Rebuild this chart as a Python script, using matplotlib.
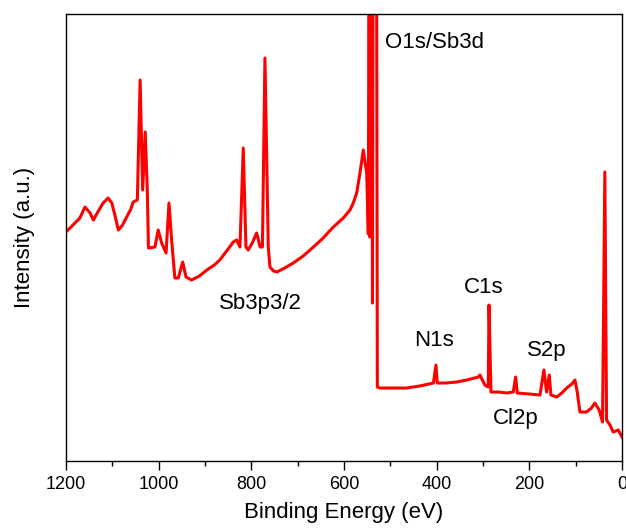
import matplotlib.pyplot as plt
import numpy as np
from matplotlib.ticker import MultipleLocator

plt.rcParams['font.family'] = ['Liberation Sans', 'DejaVu Sans']

# energia de enlace (eV) e intensidad
energia = [1200, 1185, 1170, 1159, 1148, 1141, 1130, 1120, 1109, 1101, 1094,
           1087, 1078, 1069, 1060, 1055, 1046,
           1040, 1034.5, 1029, 1024.5, 1022, 1008, 1001, 993.5, 984, 977.7,
           972, 965, 957.6, 948, 941, 929, 912, 896, 880, 868, 850, 839, 831.6,
           824.5, 817.4, 811.6, 806.6, 798, 788.5, 781, 776, 770.6, 763.4,
           759.8, 752, 745, 728, 709.5, 688, 666, 645, 623, 601.6, 587, 580,
           572.6, 565.5, 558.4, 551, 547.5, 545.5, 544.5, 543, 540, 538.5,
           537, 530, 528, 522, 495, 465, 437, 407, 401.5, 398.7, 380, 357, 335,
           310, 306.6, 296, 288.6, 287, 282.8, 265, 249, 234.6, 229.6, 226,
           200, 177, 168.5, 162.7, 157, 153.4, 141, 130, 119.5, 108, 101.5,
           96.6, 90.8, 76.4, 66, 58.5, 49.2, 42, 37, 33.3, 26, 19, 8, 0]
intensidad = [229, 236, 243, 254, 248, 241, 250, 258, 263, 258, 245,
              231, 236, 244, 252, 259, 261,
              381, 271, 329, 271, 213, 214, 231, 218, 208, 258,
              221, 183, 183, 199, 184, 181, 185, 191, 196, 201, 212, 219, 221,
              214, 313, 214, 211, 218, 228, 214, 214, 403, 214,
              194, 190, 189, 193, 198, 205, 214, 223, 234, 243, 251, 258,
              268, 288, 311, 288, 227, 600, 224, 600, 600, 158,
              600, 600, 74, 73, 73, 73, 75, 78, 96, 78, 78, 79, 81,
              84, 86, 76, 74, 156, 69, 69, 68, 69, 84, 68,
              67, 66, 91, 69, 86, 66, 64, 68, 73, 77, 81,
              69, 49, 49, 53, 58, 51, 39, 289, 41, 36, 29, 31, 24]

etiquetas = ['O1s/Sb3d', 'Sb3p3/2', 'N1s', 'C1s', 'S2p', 'Cl2p']
etiqueta_x = [511.6, 779.8, 405.5, 299.4, 162.7, 228.9]
etiqueta_y = [419, 158, 121, 174, 111, 43]

fig = plt.figure(figsize=(6.26, 5.31), dpi=100)
ax = fig.add_axes([0.1054, 0.1318, 0.8882, 0.8418])
ax.plot(energia, intensidad, color='red', linewidth=2.2)

for texto, ex, ey in zip(etiquetas, etiqueta_x, etiqueta_y):
    if texto == 'O1s/Sb3d':
        ax.text(ex, ey, texto, fontsize=16, ha='left', va='center')
    else:
        ax.text(ex, ey, texto, fontsize=16, ha='center', va='center')

ax.set_xlim(1200, 0)
ax.set_ylim(0, 447)
ax.xaxis.set_major_locator(MultipleLocator(200))
ax.xaxis.set_minor_locator(MultipleLocator(100))
ax.tick_params(axis='x', which='major', direction='out', length=6.5, width=1,
               labelsize=13, pad=4)
ax.tick_params(axis='x', which='minor', direction='out', length=3.5, width=1)
ax.tick_params(axis='y', left=False, labelleft=False)
for s in ax.spines.values():
    s.set_linewidth(1)

ax.set_xlabel('Binding Energy (eV)', fontsize=16, labelpad=7)
ax.set_ylabel('Intensity (a.u.)', fontsize=16, labelpad=22)

fig.savefig('out.png', dpi=100)
